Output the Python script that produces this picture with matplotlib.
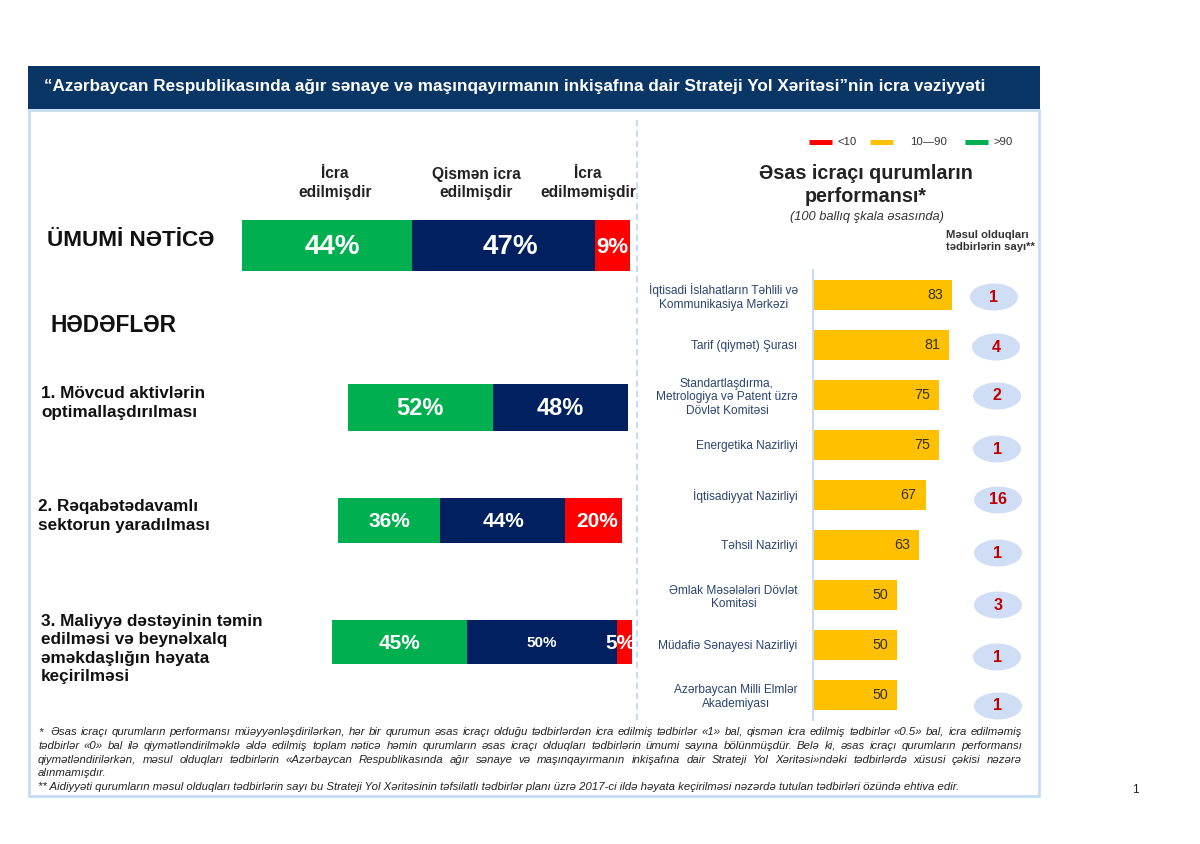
import matplotlib
matplotlib.use('Agg')
import matplotlib.pyplot as plt
from matplotlib.patches import Ellipse, Rectangle

plt.rcParams['font.family'] = ['Liberation Sans', 'DejaVu Sans']

W, H = 1200, 844
GREEN = '#00B050'
NAVY = '#002060'
RED = '#FF0000'
YELLOW = '#FFC000'
FRAME = '#C5DCF5'

# Stacked bars, share of measures
overall_values = [44, 47, 9]
goal1_values = [52, 48]
goal2_values = [36, 44, 20]
goal3_values = [45, 50, 5]
status_labels = ['İcra\nedilmişdir', 'Qismən icra\nedilmişdir', 'İcra\nedilməmişdir']

# Agencies
agencies = [
    'İqtisadi İslahatların Təhlili və\nKommunikasiya Mərkəzi',
    'Tarif (qiymət) Şurası',
    'Standartlaşdırma,\nMetrologiya və Patent üzrə\nDövlət Komitəsi',
    'Energetika Nazirliyi',
    'İqtisadiyyat Nazirliyi',
    'Təhsil Nazirliyi',
    'Əmlak Məsələləri Dövlət\nKomitəsi',
    'Müdafiə Sənayesi Nazirliyi',
    'Azərbaycan Milli Elmlər\nAkademiyası',
]
scores = [83, 81, 75, 75, 67, 63, 50, 50, 50]
measure_counts = [1, 4, 2, 1, 16, 1, 3, 1, 1]

title = '“Azərbaycan Respublikasında ağır sənaye və maşınqayırmanın inkişafına dair Strateji Yol Xəritəsi”nin icra vəziyyəti'
footnote_lines = [
    '*  Əsas icraçı qurumların performansı müəyyənləşdirilərkən, hər bir qurumun əsas icraçı olduğu tədbirlərdən icra edilmiş tədbirlər «1» bal, qismən icra edilmiş tədbirlər «0.5» bal, icra edilməmiş',
    'tədbirlər «0» bal ilə qiymətləndirilməklə əldə edilmiş toplam nəticə həmin qurumların əsas icraçı olduqları tədbirlərin ümumi sayına bölünmüşdür. Belə ki, əsas icraçı qurumların performansı',
    'qiymətləndirilərkən, məsul olduqları tədbirlərin «Azərbaycan Respublikasında ağır sənaye və maşınqayırmanın inkişafına dair Strateji Yol Xəritəsi»ndəki tədbirlərdə xüsusi çəkisi nəzərə',
]
footnote_tail = [
    'alınmamışdır.',
    '** Aidiyyəti qurumların məsul olduqları tədbirlərin sayı bu Strateji Yol Xəritəsinin təfsilatlı tədbirlər planı üzrə 2017-ci ildə həyata keçirilməsi nəzərdə tutulan tədbirləri özündə ehtiva edir.',
]


def px_axes(x0, y0, x1, y1):
    # axes placed by pixel box, y counted from the top of the picture
    return fig.add_axes([x0 / W, 1 - y1 / H, (x1 - x0) / W, (y1 - y0) / H])


def stacked_bar(box, values, sizes, shifts):
    ax = px_axes(*box)
    ax.set_xlim(0, sum(values))
    ax.set_ylim(0, 1)
    ax.axis('off')
    left = 0
    colors = [GREEN, NAVY, RED] if len(values) == 3 else [GREEN, NAVY]
    for v, c, fs, dx in zip(values, colors, sizes, shifts):
        ax.barh(0.5, v, height=1, left=left, color=c, edgecolor='none')
        t = ax.text(left + v / 2 + dx, 0.47, f'{v}%', color='white', fontsize=fs, fontweight='bold',
                    ha='center', va='center')
        t.set_clip_on(True)
        left += v
    return ax


fig = plt.figure(figsize=(W / 100, H / 100), dpi=100, facecolor='white')
bg = fig.add_axes([0, 0, 1, 1])
bg.set_xlim(0, W)
bg.set_ylim(H, 0)
bg.axis('off')

# header band and frame
bg.add_patch(Rectangle((29, 110), 1010, 686, facecolor='none', edgecolor=FRAME, linewidth=2))
bg.add_patch(Rectangle((28, 66), 1012, 43, facecolor='#0A3666', edgecolor='none'))
bg.text(44, 87, title, color='white', fontsize=12.34, fontweight='bold', va='center', ha='left')
bg.plot([637, 637], [120, 722], color=FRAME, linewidth=1.5, linestyle=(0, (3, 2)))

# left side
for cx, lab in zip([335, 476, 588], status_labels):
    bg.text(cx, 183, lab, fontsize=11.2, fontweight='bold', color='#222222', ha='center', va='center',
            linespacing=1.25)
bg.text(47, 241, 'ÜMUMİ NƏTİCƏ', fontsize=16.2, fontweight='bold', color='#111111', va='center')
bg.text(51, 326, 'HƏDƏFLƏR', fontsize=16.4, fontweight='bold', color='#111111', va='center')
bg.text(41, 403, '1. Mövcud aktivlərin\noptimallaşdırılması', fontsize=12.3, fontweight='bold',
        color='#111111', va='center', linespacing=1.3)
bg.text(38, 516, '2. Rəqabətədavamlı\nsektorun yaradılması', fontsize=12.3, fontweight='bold',
        color='#111111', va='center', linespacing=1.3)
bg.text(41, 649, '3. Maliyyə dəstəyinin təmin\nedilməsi və beynəlxalq\nəməkdaşlığın həyata\nkeçirilməsi',
        fontsize=12.3, fontweight='bold', color='#111111', va='center', linespacing=1.3)

stacked_bar((241.5, 220, 630, 271), overall_values, [20, 20, 16], [1.5, 1.8, 0])
stacked_bar((347.5, 384, 627.5, 431), goal1_values, [17, 17], [0, 0])
stacked_bar((338, 498, 622, 543), goal2_values, [15, 15, 15], [0, 0.3, 1.4])
stacked_bar((331.5, 620, 632, 664), goal3_values, [15, 11, 15], [0, 0, -1.5])

# right side heading and legend
for x0, x1, c in [(809, 832, RED), (870, 893, YELLOW), (965, 988, GREEN)]:
    bg.plot([x0, x1], [141.5, 141.5], color=c, linewidth=3.6, solid_capstyle='butt')
for x, lab in [(838, '<10'), (910, '10—90'), (994, '>90')]:
    bg.text(x, 142, lab, fontsize=8.2, color='#333333', va='center')
bg.text(866, 185, 'Əsas icraçı qurumların\nperformansı*', fontsize=14.2, fontweight='bold', color='#222222',
        ha='center', va='center', linespacing=1.32)
bg.text(867, 217, '(100 ballıq şkala əsasında)', fontsize=9.3, style='italic', color='#333333',
        ha='center', va='center')
bg.text(946, 241, 'Məsul olduqları\ntədbirlərin sayı**', fontsize=8.1, fontweight='bold', color='#333333',
        va='center', linespacing=1.25)

# agency bars
ax = px_axes(813, 270, 1012, 720)
ax.set_xlim(0, 199 / 1.68)
ax.set_ylim(len(scores) - 0.5, -0.5)
ax.patch.set_alpha(0)
ax.barh(range(len(scores)), scores, height=0.6, color=YELLOW)
for i, s in enumerate(scores):
    ax.text(s - 5.4, i, str(s), fontsize=10.3, color='#333333', ha='right', va='center')
ax.set_yticks(range(len(agencies)))
ax.set_yticklabels(agencies, fontsize=8.6, color='#2A4470', multialignment='center', linespacing=1.2)
ax.tick_params(axis='y', length=0, pad=11)
ax.set_xticks([])
for side in ['top', 'right', 'bottom']:
    ax.spines[side].set_visible(False)
ax.spines['left'].set_color(FRAME)
ax.spines['left'].set_linewidth(1.5)

# count badges
badge_x = [994, 996, 997, 997, 998, 998, 998, 997, 998]
badge_y = [297, 347, 396, 449, 500, 553, 605, 657, 706]
for x, y, n in zip(badge_x, badge_y, measure_counts):
    bg.add_patch(Ellipse((x, y), 48, 27, facecolor='#CFDDF5', edgecolor='none', zorder=3))
    bg.text(x, y, str(n), fontsize=11.5, fontweight='bold', color='#C00000', ha='center', va='center', zorder=4)
bg.set_zorder(2)
bg.patch.set_alpha(0)

# footnote, first lines stretched to the full width
fig.canvas.draw()
renderer = fig.canvas.get_renderer()
FOOT_SIZE = 8.2
FOOT_LEFT, FOOT_RIGHT = 38, 1022
for row, line in enumerate(footnote_lines):
    words = line.split(' ')
    widths = []
    for w in words:
        t = bg.text(0, 0, w, fontsize=FOOT_SIZE, style='italic')
        widths.append(t.get_window_extent(renderer).width)
        t.remove()
    gap = (FOOT_RIGHT - FOOT_LEFT - sum(widths)) / (len(words) - 1)
    x = FOOT_LEFT
    y = 732 + row * 14
    for w, wd in zip(words, widths):
        bg.text(x, y, w, fontsize=FOOT_SIZE, style='italic', color='#222222', va='center')
        x += wd + gap
bg.text(FOOT_LEFT, 773.5, footnote_tail[0], fontsize=FOOT_SIZE, style='italic', color='#222222', va='center')
bg.text(FOOT_LEFT, 787, footnote_tail[1], fontsize=FOOT_SIZE, style='italic', color='#222222', va='center')

bg.text(1135, 790, '1', fontsize=8.5, color='#222222', ha='center', va='center')

fig.savefig('out.png', dpi=100)
